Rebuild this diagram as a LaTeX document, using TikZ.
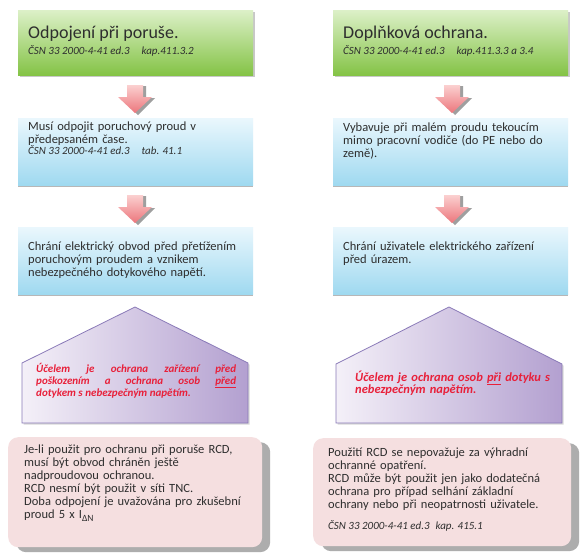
\documentclass[tikz,border=0pt]{standalone}
\usepackage{fontspec}
\setmainfont{Carlito}
\usetikzlibrary{shadows}
\definecolor{greenTop}{HTML}{DCF0C8}
\definecolor{greenBot}{HTML}{84C346}
\definecolor{blueTop}{HTML}{EAF7FD}
\definecolor{blueBot}{HTML}{9FD9F0}
\definecolor{arrTop}{HTML}{FBD0D0}
\definecolor{arrBot}{HTML}{EC767C}
\definecolor{penLeft}{HTML}{F4F0F8}
\definecolor{penRight}{HTML}{B3A0D0}
\definecolor{penLine}{HTML}{8A7AB8}
\definecolor{pinkFill}{HTML}{F5DFE0}
\definecolor{redText}{HTML}{E8203A}
\definecolor{textGray}{HTML}{2E2E2E}
\tikzset{
  boxbase/.style={anchor=north west, inner sep=0pt, draw=none},
  greenbox/.style={boxbase, minimum width=235pt, minimum height=65pt,
    top color=greenTop, bottom color=greenBot,
    drop shadow={shadow xshift=1.5pt, shadow yshift=-1.5pt, fill=gray!60, opacity=.7}},
  bluebox/.style={boxbase, minimum width=235pt, minimum height=67pt,
    top color=blueTop, bottom color=blueBot,
    drop shadow={shadow xshift=0pt, shadow yshift=-2pt, fill=gray!70, opacity=.8}},
  pinkbox/.style={boxbase, fill=pinkFill, rounded corners=10pt,
    drop shadow={shadow xshift=8pt, shadow yshift=-5pt, fill=gray!80, opacity=.8}},
  txt/.style={anchor=base west, inner sep=0pt, text=textGray, align=left, text width=250pt,
    font=\fontsize{12.5}{13}\selectfont},
  title/.style={anchor=base west, inner sep=0pt, text=textGray,
    font=\fontsize{18}{20}\selectfont},
  reftxt/.style={anchor=base west, inner sep=0pt, text=textGray,
    font=\fontsize{11}{12}\selectfont\itshape},
  redtxtL/.style={anchor=base west, inner sep=0pt, text=redText,
    font=\fontsize{11}{11}\selectfont\bfseries\itshape},
  redtxt/.style={anchor=base west, inner sep=0pt, text=redText, align=left, text width=230pt,
    font=\fontsize{12.5}{12.8}\selectfont\bfseries\itshape},
  pentagon/.style={left color=penLeft, right color=penRight, draw=penLine, line width=0.8pt,
    drop shadow={shadow xshift=1.5pt, shadow yshift=-1.5pt, fill=gray!50, opacity=.6}},
  downarrow/.pic={
    \fill[gray!75] (-5,1) -- (11,1) -- (11,13) -- (20,13) -- (3,30) -- (-14,13) -- (-5,13) -- cycle;
    \shade[top color=arrTop, bottom color=arrBot]
      (-8,0) -- (8,0) -- (8,12) -- (17,12) -- (0,28) -- (-17,12) -- (-8,12) -- cycle;
  }
}
\begin{document}
\begin{tikzpicture}[x=1pt,y=-1pt]
\useasboundingbox[fill=white] (0,0) rectangle (581,555);

% ---------------- left column ----------------
\node[greenbox] (lg) at (18,10) {};
\node[title] (lgt) at (28,38) {Odpojení při poruše.};
\node[reftxt] (lgr) at (28,54) {ČSN 33 2000-4-41 ed.3\hspace{12pt}kap.411.3.2};

\pic (la1) at (135,85) {downarrow};

\node[bluebox] (lb1) at (18,118) {};
\node[txt] (lb1t) at (28,130) {Musí odpojit poruchový proud v\\předepsaném čase.};
\node[reftxt] (lb1r) at (28,154) {ČSN 33 2000-4-41 ed.3\hspace{12pt}tab. 41.1};

\pic (la2) at (135,195) {downarrow};

\node[bluebox] (lb2) at (18,227) {};
\node[txt] (lb2t) at (28,250) {Chrání elektrický obvod před přetížením\\poruchovým proudem a vznikem\\nebezpečného dotykového napětí.};

\path[pentagon] (22,363) -- (135,307) -- (248,363) -- (248,423) -- (22,423) -- cycle;
\node[redtxtL] (lpt1) at (36,372) {\makebox[200pt][s]{Účelem je ochrana zařízení před}};
\node[redtxtL] (lpt2) at (36,384) {\makebox[200pt][s]{poškozením a ochrana osob \underline{před}}};
\node[redtxtL] (lpt3) at (36,396) {dotykem s nebezpečným napětím.};

\node[pinkbox, minimum width=254pt, minimum height=110pt] (lp) at (8,437) {};
\node[txt] (lpt) at (24,453) {Je-li použit pro ochranu při poruše RCD,\\musí být obvod chráněn ještě\\nadproudovou ochranou.\\RCD nesmí být použit v síti TNC.\\Doba odpojení je uvažována pro zkušební\\proud 5 x I\raisebox{-3pt}{\fontsize{9.5}{9.5}\selectfont ΔN}};

% ---------------- right column ----------------
\node[greenbox] (rg) at (333,10) {};
\node[title] (rgt) at (343,38) {Doplňková ochrana.};
\node[reftxt] (rgr) at (343,54) {ČSN 33 2000-4-41 ed.3\hspace{12pt}kap.411.3.3 a 3.4};

\pic (ra1) at (452,85) {downarrow};

\node[bluebox] (rb1) at (333,118) {};
\node[txt] (rb1t) at (343,131) {Vybavuje při malém proudu tekoucím\\mimo pracovní vodiče (do PE nebo do\\země).};

\pic (ra2) at (452,195) {downarrow};

\node[bluebox] (rb2) at (333,227) {};
\node[txt] (rb2t) at (343,250) {Chrání uživatele elektrického zařízení\\před úrazem.};

\path[pentagon] (336,364) -- (449,307) -- (562,364) -- (562,423) -- (336,423) -- cycle;
\node[redtxt] (rpt) at (355,381) {Účelem je ochrana osob \underline{při} dotyku s\\nebezpečným napětím.};

\node[pinkbox, minimum width=258pt, minimum height=108pt] (rp) at (313,438) {};
\node[txt] (rpt2) at (328,456) {Použití RCD se nepovažuje za výhradní\\ochranné opatření.\\RCD může být použit jen jako dodatečná\\ochrana pro případ selhání základní\\ochrany nebo při neopatrnosti uživatele.};
\node[reftxt] (rpr) at (328,529) {ČSN 33 2000-4-41 ed.3\hspace{6pt}kap. 415.1};
\end{tikzpicture}
\end{document}
